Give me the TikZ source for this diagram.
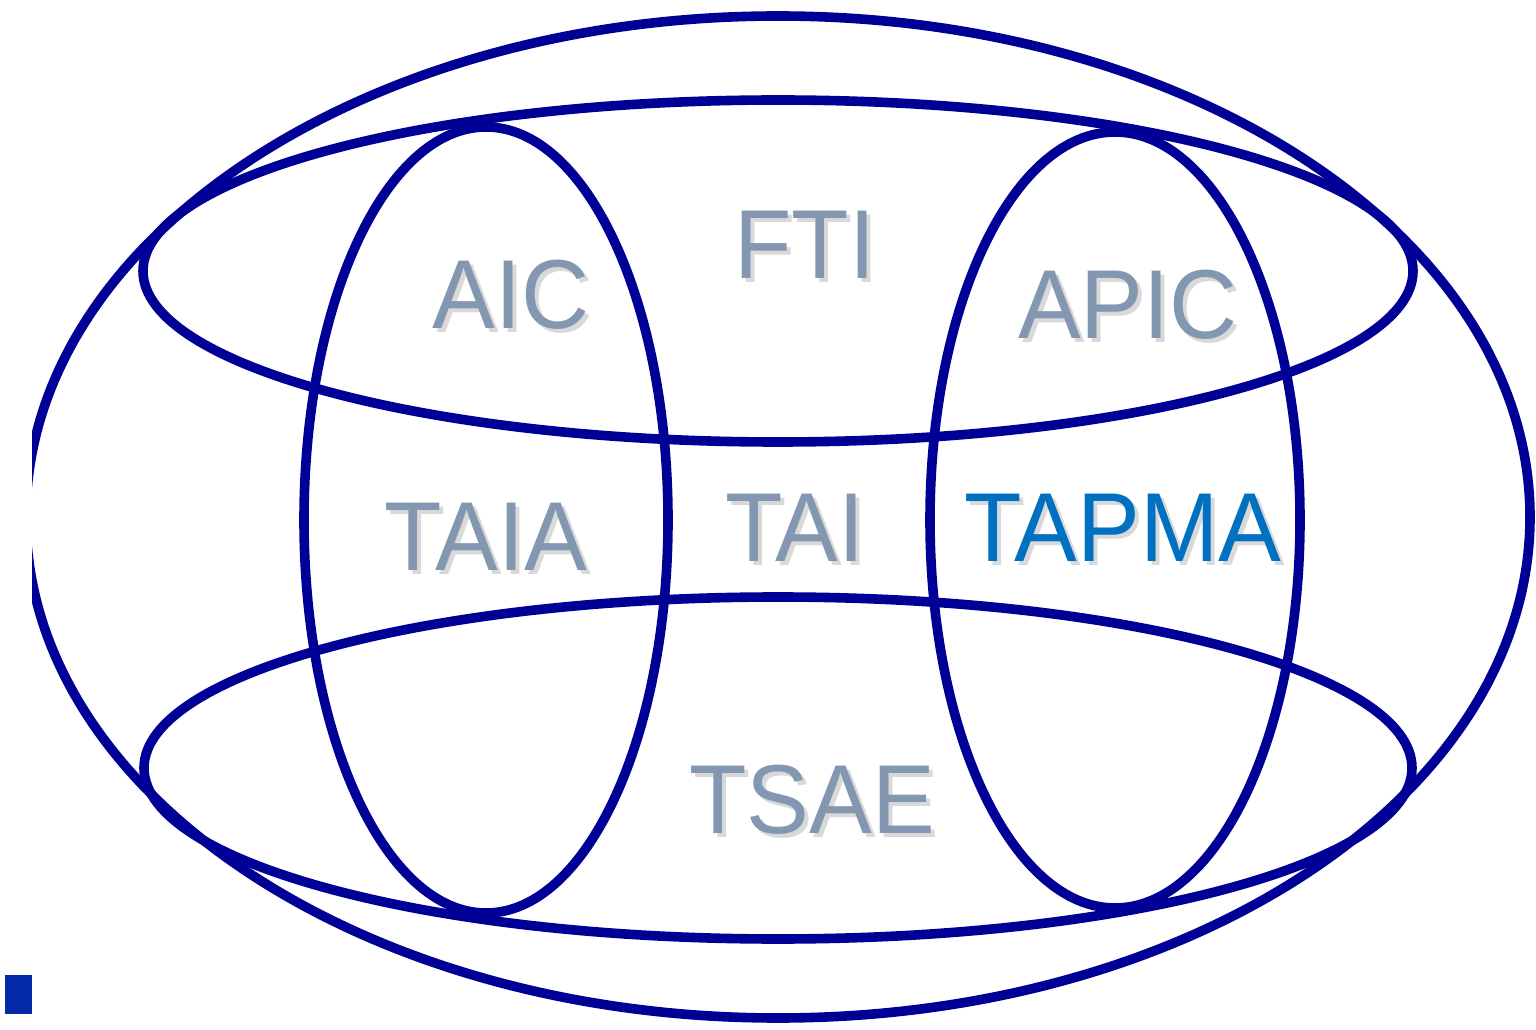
\documentclass[tikz,border=0pt]{standalone}
\usepackage{fontspec}
\setmainfont{Liberation Sans}
\usepackage{xcolor}
\definecolor{ringblue}{HTML}{000096}
\definecolor{labelgray}{HTML}{8497B0}
\definecolor{labelblue}{HTML}{0070C0}
\definecolor{markblue}{HTML}{0329A6}

\newcommand{\lbltext}[1]{\scalebox{0.96}[1]{#1}}

\tikzset{
    ring/.style={draw=ringblue,line width=4.8pt},
    lbl/.style={inner sep=0pt,font=\fontsize{49}{59}\selectfont,text=labelgray},
    shade/.style={inner sep=0pt,font=\fontsize{49}{59}\selectfont,text=black,opacity=0.15},
}

\begin{document}
\begin{tikzpicture}[x=0.5pt,y=0.5pt]
        \useasboundingbox (0,0) rectangle (1536,1029);
        % outer ring, cut at the left edge
        \begin{scope}
            \clip (32,0) rectangle (1536,1029);
            \draw[ring] (778,512) ellipse [x radius=752, y radius=501];
        \end{scope}
        % horizontal rings
        \draw[ring] (778,758) ellipse [x radius=635, y radius=171];
        \draw[ring] (778,261) ellipse [x radius=634, y radius=171];
        % vertical rings
        \draw[ring] (486,509) ellipse [x radius=182, y radius=393];
        \draw[ring] (1115,509) ellipse [x radius=185, y radius=388];
        % shadows of the labels
        \foreach \t/\px/\py in {AIC/511/734, FTI/805/784, APIC/1128/724, TAIA/486/492,
                                TAI/795/501, TAPMA/1123/501, TSAE/812/229}
            \node[shade] (sh\t) at (\px+4,\py-4) {\lbltext{\t}};
        % labels
        \node[lbl] (aic) at (511,734) {\lbltext{AIC}};
        \node[lbl] (fti) at (805,784) {\lbltext{FTI}};
        \node[lbl] (apic) at (1128,724) {\lbltext{APIC}};
        \node[lbl] (taia) at (486,492) {\lbltext{TAIA}};
        \node[lbl] (tai) at (795,501) {\lbltext{TAI}};
        \node[lbl,text=labelblue] (tapma) at (1123,501) {\lbltext{TAPMA}};
        \node[lbl] (tsae) at (812,229) {\lbltext{TSAE}};
        % small mark
        \fill[markblue] (5,15) rectangle (32,54);
    \end{tikzpicture}
\end{document}
